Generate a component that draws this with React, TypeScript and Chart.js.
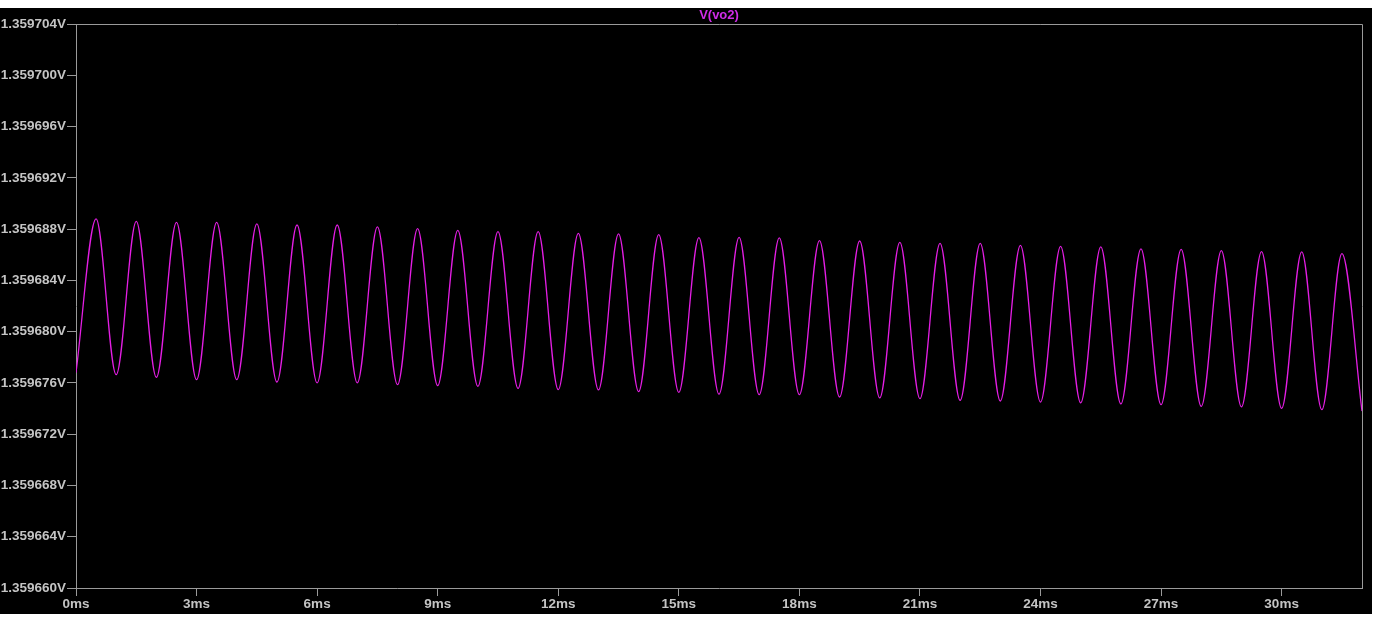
import React, { useEffect, useRef } from "react";
import { Chart, registerables } from "chart.js";

Chart.register(...registerables);

// Trough (and start/end) times in ms and their voltages
const troughTimesMs = [0, 1, 2, 3, 4, 5, 6, 7, 8, 9, 10, 11, 12, 13, 14, 15, 16, 17, 18, 19, 20, 21, 22, 23, 24, 25, 26, 27, 28, 29, 30, 31, 32];
const troughValues = [
  1.3596768, 1.35967664, 1.35967643, 1.35967625, 1.35967625, 1.35967607, 1.359676, 1.359676, 1.35967586,
  1.35967579, 1.35967573, 1.35967558, 1.35967547, 1.35967545, 1.35967532, 1.35967526, 1.35967512,
  1.35967508, 1.35967508, 1.3596749, 1.35967483, 1.35967477, 1.35967464, 1.35967459, 1.35967451,
  1.35967444, 1.35967436, 1.3596743, 1.35967417, 1.35967413, 1.35967402, 1.35967391, 1.3596738,
];

// Peak times in ms and their voltages
const peakTimesMs = [0.5, 1.5, 2.5, 3.5, 4.5, 5.5, 6.5, 7.5, 8.5, 9.5, 10.5, 11.5, 12.5, 13.5, 14.5, 15.5, 16.5, 17.5, 18.5, 19.5, 20.5, 21.5, 22.5, 23.5, 24.5, 25.5, 26.5, 27.5, 28.5, 29.5, 30.5, 31.5];
const peakValues = [
  1.35968879, 1.3596886, 1.35968852, 1.35968852, 1.3596884, 1.35968832, 1.35968832, 1.35968817,
  1.35968803, 1.3596879, 1.3596878, 1.3596878, 1.35968767, 1.35968762, 1.35968757, 1.35968733,
  1.35968735, 1.35968731, 1.3596871, 1.35968707, 1.35968696, 1.35968689, 1.35968689, 1.35968673,
  1.35968665, 1.35968661, 1.35968645, 1.35968642, 1.35968632, 1.35968624, 1.35968622, 1.35968608,
];

const xTicksMs = [0, 3, 6, 9, 12, 15, 18, 21, 24, 27, 30];
const yTicksV = [
  1.35966, 1.359664, 1.359668, 1.359672, 1.359676, 1.35968, 1.359684, 1.359688, 1.359692, 1.359696, 1.3597, 1.359704,
];
const traceLabel = "V(vo2)";

const TRACE = "#e41ee4";
const TITLE = "#d02ce8";
const AXIS = "#9a9a9a";
const TEXT = "#c4c4c4";
const FONT = { family: "'Liberation Sans', Arial, sans-serif", size: 13.5, weight: "bold" as const };

export default function App() {
  const ref = useRef<HTMLCanvasElement | null>(null);

  useEffect(() => {
    if (!ref.current) return;
    const points = [
      ...troughTimesMs.map((t, i) => ({ x: t, y: troughValues[i] })),
      ...peakTimesMs.map((t, i) => ({ x: t, y: peakValues[i] })),
    ].sort((a, b) => a.x - b.x);

    const framePlugin = {
      id: "frame",
      afterDraw(chart: any) {
        const { ctx, chartArea } = chart;
        ctx.save();
        ctx.strokeStyle = AXIS;
        ctx.lineWidth = 1;
        ctx.beginPath();
        ctx.moveTo(chartArea.left, Math.round(chartArea.top) + 0.5);
        ctx.lineTo(Math.round(chartArea.right) + 0.5, Math.round(chartArea.top) + 0.5);
        ctx.lineTo(Math.round(chartArea.right) + 0.5, chartArea.bottom);
        ctx.stroke();
        ctx.fillStyle = TITLE;
        ctx.font = "bold 13px 'Liberation Sans', Arial, sans-serif";
        ctx.textAlign = "center";
        ctx.textBaseline = "middle";
        ctx.fillText(traceLabel, (chartArea.left + chartArea.right) / 2, 7.5);
        ctx.restore();
      },
    };

    const chart = new Chart(ref.current, {
      type: "line",
      data: {
        datasets: [
          {
            label: traceLabel,
            data: points,
            borderColor: TRACE,
            borderWidth: 1.3,
            pointRadius: 0,
            cubicInterpolationMode: "monotone",
            fill: false,
          },
        ],
      },
      options: {
        animation: false,
        responsive: false,
        devicePixelRatio: 1,
        layout: { padding: { top: 16, right: 10, bottom: 0, left: 0 } },
        plugins: { legend: { display: false }, tooltip: { enabled: false }, title: { display: false } },
        scales: {
          x: {
            type: "linear",
            min: 0,
            max: 32,
            position: "bottom",
            afterBuildTicks: (s: any) => {
              s.ticks = xTicksMs.map((value) => ({ value }));
            },
            afterFit: (s: any) => {
              s.height = 26;
            },
            ticks: {
              callback: (v: any) => `${v}ms`,
              color: TEXT,
              font: FONT,
              maxRotation: 0,
              autoSkip: false,
              padding: 0,
            },
            grid: { display: true, drawOnChartArea: false, drawTicks: true, tickLength: 8, color: AXIS },
            border: { display: true, color: AXIS },
          },
          y: {
            type: "linear",
            min: 1.35966,
            max: 1.359704,
            position: "left",
            afterBuildTicks: (s: any) => {
              s.ticks = yTicksV.map((value) => ({ value }));
            },
            afterFit: (s: any) => {
              s.width = 76;
            },
            ticks: {
              callback: (v: any) => `${Number(v).toFixed(6)}V`,
              color: TEXT,
              font: FONT,
              autoSkip: false,
              padding: 1,
            },
            grid: { display: true, drawOnChartArea: false, drawTicks: true, tickLength: 9, color: AXIS },
            border: { display: true, color: AXIS },
          },
        },
      },
      plugins: [framePlugin],
    });
    return () => chart.destroy();
  }, []);

  return (
    <div style={{ position: "absolute", left: 0, top: 8, width: 1372, height: 606, background: "#000" }}>
      <canvas ref={ref} width={1372} height={606} style={{ display: "block" }} />
    </div>
  );
}
